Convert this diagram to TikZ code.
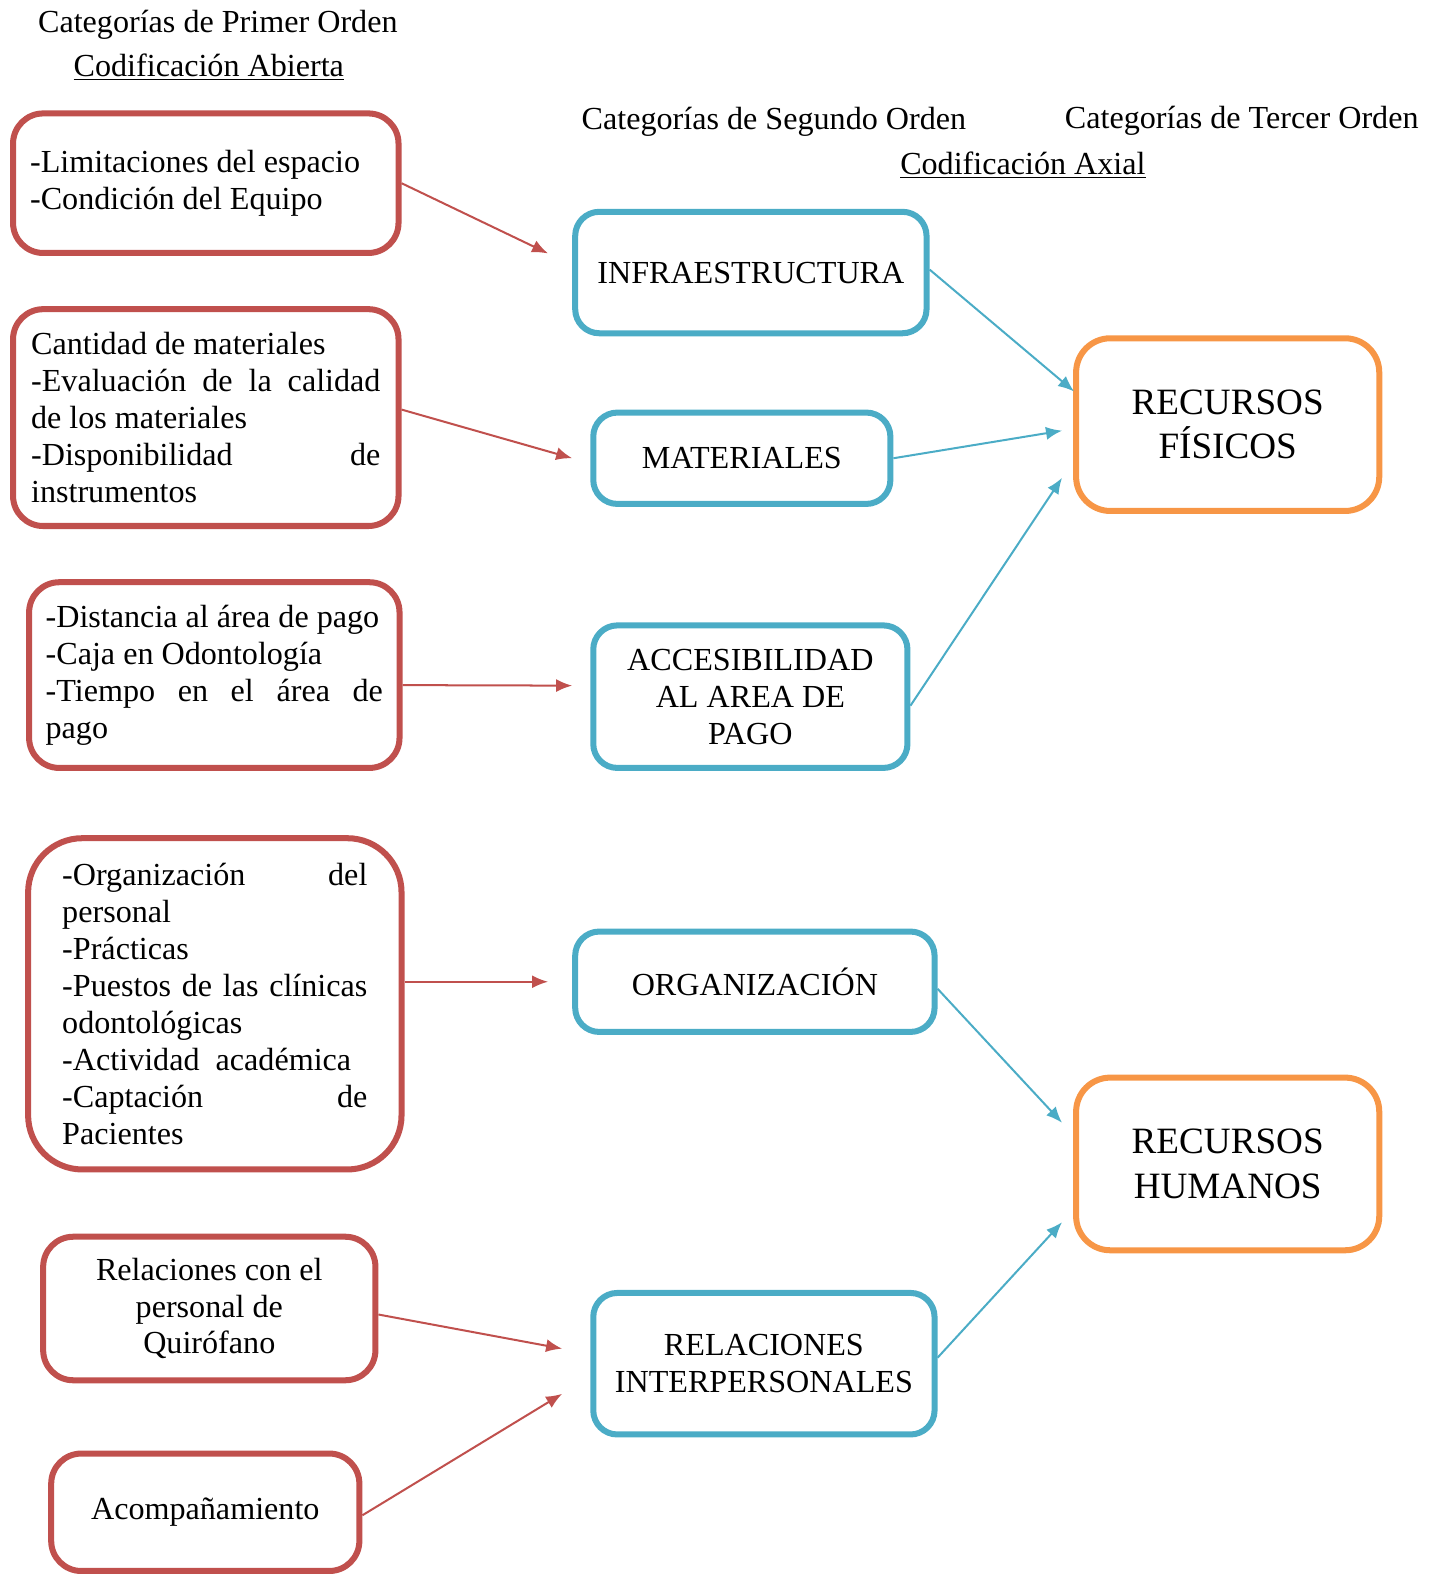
\documentclass[tikz,border=0pt]{standalone}
\usepackage{fontspec}
\setmainfont{Liberation Serif}
\usetikzlibrary{calc,arrows.meta}
\definecolor{openred}{HTML}{C0504D}
\definecolor{axialblue}{HTML}{4BACC6}
\definecolor{thirdorange}{HTML}{F79646}

\begin{document}
\begin{tikzpicture}[x=0.5pt,y=-0.5pt,
     every node/.style = {font=\fontsize{16}{18.4}\selectfont},
     prim/.style = {draw=openred, line width=3pt, rounded corners=15pt, align=flush left},
     sec/.style = {draw=axialblue, line width=3pt, rounded corners=12pt, align=flush center},
     ter/.style = {draw=thirdorange, line width=3pt, rounded corners=17pt, align=flush center,
      font=\fontsize{18.5}{22}\selectfont},
     redarrow/.style = {draw=openred, line width=1pt, -{Latex[length=8pt,width=6.5pt]}},
     bluearrow/.style = {draw=axialblue, line width=1pt, -{Latex[length=8pt,width=6.5pt]}},
     title/.style = {inner sep=0pt}
    ]
    \useasboundingbox (0,0) rectangle (1434,1568);

    % column titles
    \node [title] (t1) at (217,25) {Categorías de Primer Orden};
    \node [title] (c1) at (208,67) {\underline{Codificación Abierta}};
    \node [title] (t2) at (771,121) {Categorías de Segundo Orden};
    \node [title] (t3) at (1237,120) {Categorías de Tercer Orden};
    \node [title] (c2) at (1019,165) {\underline{Codificación Axial}};

    % first order
    \node [prim, minimum width=192pt, minimum height=69.5pt, text width=175pt] (lim) at (205,182.5)
      {-Limitaciones del espacio\\-Condición del Equipo};
    \node [prim, minimum width=192pt, minimum height=108pt, text width=174pt] (cant) at (205,416)
      {Cantidad de materiales\\-Evaluación\hfill de\hfill la\hfill calidad\\de los materiales\\-Disponibilidad\hfill de\\instrumentos};
    \node [prim, minimum width=184.5pt, minimum height=92.5pt, text width=168pt] (dist) at (213.5,672.5)
      {-Distancia al área de pago\\-Caja en Odontología\\-Tiempo\hfill en\hfill el\hfill área\hfill de\\pago};
    \node [prim, rounded corners=27pt, minimum width=186pt, minimum height=165pt, text width=152pt] (orgp) at (214,1000)
      {-Organización\hfill del\\personal\\-Prácticas\\-Puestos\hfill de\hfill las\hfill clínicas\\odontológicas\\-Actividad\ \ académica\\-Captación\hfill de\\Pacientes};
    \node [prim, align=flush center, minimum width=165.5pt, minimum height=71.5pt, text width=150pt] (quir) at (208.5,1303.5)
      {Relaciones con el\\personal de\\Quirófano};
    \node [prim, align=flush center, minimum width=153.5pt, minimum height=58.5pt] (acom) at (204.5,1506.5)
      {Acompañamiento};

    % second order
    \node [sec, minimum width=175pt, minimum height=60.5pt] (infra) at (748,271.5) {INFRAESTRUCTURA};
    \node [sec, minimum width=148pt, minimum height=45.5pt] (mat) at (739,456.5) {MATERIALES};
    \node [sec, minimum width=156.5pt, minimum height=71pt] (acc) at (747.5,694) {ACCESIBILIDAD\\AL AREA DE\\PAGO};
    \node [sec, minimum width=179pt, minimum height=50pt] (org) at (752,978) {ORGANIZACIÓN};
    \node [sec, minimum width=170pt, minimum height=70.5pt] (rel) at (761,1358.5) {RELACIONES\\INTERPERSONALES};

    % third order
    \node [ter, minimum width=151pt, minimum height=86pt] (fis) at (1223,423) {RECURSOS\\FÍSICOS};
    \node [ter, minimum width=151pt, minimum height=86pt] (hum) at (1223,1159.5) {RECURSOS\\HUMANOS};

    \draw[redarrow] (lim.east) -- ($(infra.west)+(-24,-19)$);
    \draw[redarrow] ($(cant.east)+(0,-8)$) -- ($(mat.west)+(-18,0)$);
    \draw[redarrow] ($(dist.east)+(0,10)$) -- ($(acc.west)+(-18,-11)$);
    \draw[redarrow] (orgp.east |- org.west) -- ($(org.west)+(-24,0)$);
    \draw[redarrow] ($(quir.east)+(0,6)$) -- ($(rel.west)+(-28,-15)$);
    \draw[redarrow] ($(acom.east)+(0,3)$) -- ($(rel.west)+(-28,30)$);

    \draw[bluearrow] ($(infra.east)+(0,-3)$) -- ($(fis.west)+(1,-33)$);
    \draw[bluearrow] (mat.east) -- ($(fis.west)+(-11,6)$);
    \draw[bluearrow] ($(acc.east)+(0,9)$) -- ($(fis.west)+(-11,53)$);
    \draw[bluearrow] ($(org.east)+(0,7)$) -- ($(hum.west)+(-11,-41)$);
    \draw[bluearrow] ($(rel.east)+(0,-6)$) -- ($(hum.west)+(-11,58)$);

\end{tikzpicture}
\end{document}
